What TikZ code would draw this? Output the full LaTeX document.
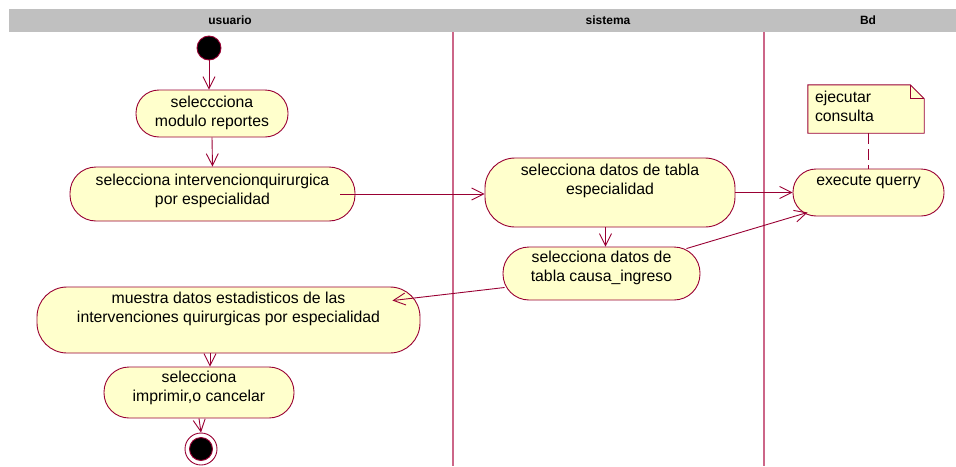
\documentclass[tikz,border=0pt]{standalone}
\usepackage{fontspec}
\setmainfont{Liberation Sans}
\usetikzlibrary{arrows.meta,calc,backgrounds}
\definecolor{ActFill}{HTML}{FFFFCC}
\definecolor{ActLine}{HTML}{990033}
\definecolor{LaneLine}{HTML}{CC6688}
\definecolor{LaneHead}{HTML}{C0C0C0}

\begin{document}
\begin{tikzpicture}[
  x=1pt,y=-1pt,
  flow/.style={
    -{Straight Barb[length=12pt,width=12pt]},
    line width=0.9pt,
    draw=ActLine
  },
  activity/.style={
    rectangle,
    rounded corners=23pt,
    line width=0.9pt,
    draw=ActLine,
    fill=ActFill,
    align=center,
    inner sep=0pt,
    font=\fontsize{15.8}{19}\selectfont
  },
  notebox/.style={
    align=left,
    inner xsep=7pt,
    inner ysep=0pt,
    font=\fontsize{15.8}{19}\selectfont
  },
  lane/.style={
    line width=1.5pt,
    draw=LaneLine
  },
  lanetitle/.style={
    font=\fontsize{12}{14}\selectfont\bfseries
  },
  initstate/.style={
    circle,
    minimum size=24pt,
    inner sep=0pt,
    fill=black,
    draw=ActLine,
    line width=0.9pt
  },
  finalstate/.style={
    circle,
    minimum size=32pt,
    inner sep=0pt,
    fill=white,
    draw=ActLine,
    line width=0.9pt,
    path picture={
      \filldraw[fill=black,draw=ActLine,line width=0.9pt]
        (path picture bounding box.center) circle (11.5pt);
    }
  }
]
\useasboundingbox (0,0) rectangle (956,466);

% -------------------------------------------------
% Swimlanes
% -------------------------------------------------
\fill[LaneHead] (9,9) rectangle (956,32);
\node[lanetitle] (hUsr) at (230,20.5) {usuario};
\node[lanetitle] (hSys) at (608,20.5) {sistema};
\node[lanetitle] (hBd)  at (868,20.5) {Bd};

\draw[lane] (453,32) -- (453,466);
\draw[lane] (764,32) -- (764,466);

% -------------------------------------------------
% usuario
% -------------------------------------------------
\node[initstate] (ini) at (209,48) {};

\node[activity, minimum width=152pt, text height=36pt, text depth=11pt]
  (selMod) at (212,113.5) {seleccciona\\modulo reportes};

\node[activity, rounded corners=26pt, minimum width=285pt, text height=37pt, text depth=17pt]
  (selInt) at (212.5,194) {selecciona intervencionquirurgica\\por especialidad};

\node[activity, rounded corners=30pt, minimum width=383pt, text height=35pt, text depth=31pt]
  (muestra) at (228.5,320)
  {muestra datos estadisticos de las\\intervenciones quirurgicas por especialidad};

\node[activity, rounded corners=25pt, minimum width=190pt, text height=34pt, text depth=17pt]
  (imprimir) at (199,392.5) {selecciona\\imprimir,o cancelar};

\node[finalstate] (fin) at (201,449) {};

% -------------------------------------------------
% sistema
% -------------------------------------------------
\node[activity, rounded corners=30pt, minimum width=250pt, text height=36pt, text depth=33pt]
  (datEsp) at (610,192.5) {selecciona datos de tabla\\especialidad};

\node[activity, rounded corners=26pt, minimum width=197pt, text height=34pt, text depth=19pt]
  (datCausa) at (601.5,273.5) {selecciona datos de\\tabla causa\_ingreso};

% -------------------------------------------------
% Bd
% -------------------------------------------------
\node[activity, minimum width=151pt, text height=16pt, text depth=31pt]
  (query) at (868.5,192.5) {execute querry};

\node[notebox, text width=102pt, text height=17pt, text depth=31pt]
  (nota) at (866,109) {ejecutar\\consulta};
\begin{scope}[on background layer]
  \filldraw[fill=ActFill, draw=ActLine, line width=0.9pt]
    (nota.north west) -- ($(nota.north east)+(-14,0)$)
    -- ($(nota.north east)+(0,14)$) -- (nota.south east)
    -- (nota.south west) -- cycle;
  \draw[ActLine, line width=0.9pt]
    ($(nota.north east)+(-14,0)$) |- ($(nota.north east)+(0,14)$);
\end{scope}
\draw[ActLine, line width=0.9pt, dash pattern=on 11pt off 5pt]
  (nota.south -| query.north) -- (query.north);

% -------------------------------------------------
% Transitions
% -------------------------------------------------
\draw[flow] (ini.south) -- (ini.south |- selMod.north);
\draw[flow] (selMod.south) -- (selInt.north);
\draw[flow] ($(selInt.east)+(-15,0)$) -- (selInt.east -| datEsp.west);
\draw[flow] (datEsp.east) -- (query.west);
\draw[flow] ([xshift=4pt]datCausa.north |- datEsp.south) -- ([xshift=4pt]datCausa.north);
\draw[flow] ($(datCausa.north east)+(-14,2)$) -- ($(query.south west)+(15,-4)$);
\draw[flow] ($(datCausa.west)+(2,14)$) -- ($(muestra.north east)+(-28,14)$);
\draw[flow] ([xshift=11pt]imprimir.north |- muestra.south) -- ([xshift=11pt]imprimir.north);
\draw[flow] (imprimir.south) -- (fin.north);

\end{tikzpicture}
\end{document}
